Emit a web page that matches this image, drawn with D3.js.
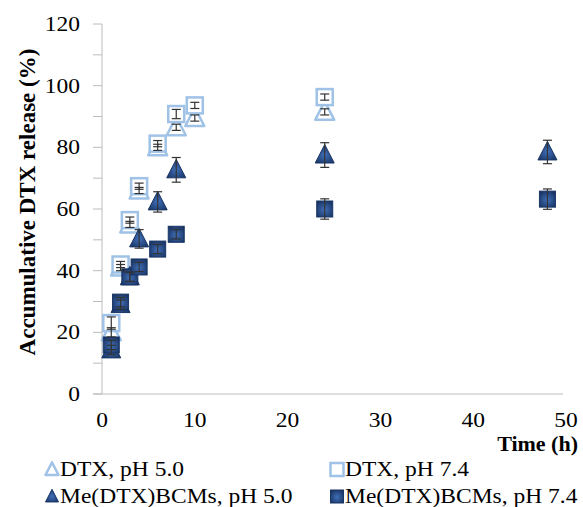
<!DOCTYPE html>
<html>
<head>
<meta charset="utf-8">
<script src="https://cdn.jsdelivr.net/npm/d3@7"></script>
<style>
  body { margin: 0; background: #fff; }
  svg text { font-family: "Liberation Serif", "Times New Roman", serif; fill: #000; }
</style>
</head>
<body>
<svg id="chart" width="583" height="507"></svg>
<script>
// data
const times_dtx = [1, 2, 3, 4, 6, 8, 10, 24];
const times_bcm = [1, 2, 3, 4, 6, 8, 24, 48];

const dtx_ph50 = [20, 41, 55, 66, 80, 86.5, 89.5, 91.5];
const dtx_ph50_err = [1.5, 1, 1, 1, 1, 1, 1, 1];
const dtx_ph74 = [23, 42, 56.4, 67.4, 81.2, 90.8, 93.6, 96.3];
const dtx_ph74_err = [2, 1, 1, 1, 1, 1.5, 1, 1];
const bcm_ph50 = [14.3, 29, 38, 50.3, 62.3, 72.7, 77.5, 78.5];
const bcm_ph50_err = [1.5, 1.5, 1.5, 3, 3.3, 4, 4, 3.8];
const bcm_ph74 = [15.9, 29.8, 38, 41.2, 47, 51.8, 60, 63.2];
const bcm_ph74_err = [1.5, 1.5, 1.5, 1.5, 1.5, 1.5, 3.3, 3.3];

const yTicks = [0, 20, 40, 60, 80, 100, 120];
const yMinor = [10, 30, 50, 70, 90, 110];
const xTicks = [0, 10, 20, 30, 40, 50];

const series = [
  { name: 'DTX, pH 5.0', t: times_dtx, v: dtx_ph50, e: dtx_ph50_err, shape: 'tri', filled: false },
  { name: 'DTX, pH 7.4', t: times_dtx, v: dtx_ph74, e: dtx_ph74_err, shape: 'sq', filled: false },
  { name: 'Me(DTX)BCMs, pH 5.0', t: times_bcm, v: bcm_ph50, e: bcm_ph50_err, shape: 'tri', filled: true },
  { name: 'Me(DTX)BCMs, pH 7.4', t: times_bcm, v: bcm_ph74, e: bcm_ph74_err, shape: 'sq', filled: true }
];

const svg = d3.select('#chart');
const x = d3.scaleLinear().domain([0, 50]).range([102, 566]);
const y = d3.scaleLinear().domain([0, 120]).range([394, 24]);

// the source figure is a bit stretched sideways, so text gets a small x scale
const SX = 1.12;
function label(g, px, py, txt, size, anchor, bold) {
  g.append('text')
    .attr('transform', `translate(${px},${py}) scale(${SX},1)`)
    .attr('text-anchor', anchor)
    .style('font-size', size + 'px')
    .style('font-weight', bold ? 'bold' : 'normal')
    .text(txt);
}

const defs = svg.append('defs');
const grad = defs.append('radialGradient').attr('id', 'darkfill').attr('cx', '50%').attr('cy', '55%').attr('r', '65%');
grad.append('stop').attr('offset', '0%').attr('stop-color', '#416fb8');
grad.append('stop').attr('offset', '100%').attr('stop-color', '#16315f');

const axisColor = '#bcbcbc';

// y axis
const yAx = svg.append('g');
yAx.append('line').attr('x1', x(0)).attr('x2', x(0)).attr('y1', y(120)).attr('y2', y(0)).attr('stroke', axisColor);
yAx.selectAll('line.tick').data(yTicks.concat(yMinor)).enter().append('line')
  .attr('class', 'tick').attr('x1', x(0) - 9).attr('x2', x(0))
  .attr('y1', d => y(d)).attr('y2', d => y(d)).attr('stroke', axisColor);
yTicks.forEach(d => label(yAx, 80, y(d) + 7, d, 21, 'end'));

// x axis
const xAx = svg.append('g');
xAx.append('line').attr('x1', x(0) - 9).attr('x2', x(50) - 3)
  .attr('y1', y(0)).attr('y2', y(0)).attr('stroke', axisColor);
xTicks.forEach(d => label(xAx, x(d), 427, d, 21, 'middle'));

// titles
svg.append('text').attr('x', 578).attr('y', 451).attr('text-anchor', 'end')
  .style('font-size', '22px').style('font-weight', 'bold').text('Time (h)');
svg.append('text').attr('transform', `translate(35,202) rotate(-90)`)
  .attr('text-anchor', 'middle').style('font-size', '23px').style('font-weight', 'bold')
  .text('Accumulative DTX release (%)');

function drawMarker(g, shape, filled, size) {
  const s = size;
  if (shape === 'tri') {
    g.append('path')
      .attr('d', `M0,${-s * 0.55} L${s * 0.5},${s * 0.42} L${-s * 0.5},${s * 0.42} Z`)
      .attr('fill', filled ? 'url(#darkfill)' : '#fff')
      .attr('stroke', filled ? '#1a3566' : '#9fc2e6')
      .attr('stroke-width', filled ? 1 : 2.5).attr('stroke-linejoin', 'round');
  } else {
    g.append('rect').attr('x', -s / 2).attr('y', -s / 2).attr('width', s).attr('height', s)
      .attr('fill', filled ? 'url(#darkfill)' : '#fff')
      .attr('stroke', filled ? '#1a3566' : '#9fc2e6')
      .attr('stroke-width', filled ? 1 : 2.5);
  }
}

// points
series.forEach(s => {
  const g = svg.append('g');
  s.t.forEach((t, i) => {
    const m = g.append('g').attr('transform', `translate(${x(t)},${y(s.v[i])})`);
    drawMarker(m, s.shape, s.filled, s.shape === 'tri' ? 19 : 16);
  });
});

// error bars on top
series.forEach(s => {
  const g = svg.append('g').attr('stroke', '#333').attr('stroke-width', 1.2);
  s.t.forEach((t, i) => {
    const cx = x(t), lo = y(s.v[i] - s.e[i]), hi = y(s.v[i] + s.e[i]);
    g.append('line').attr('x1', cx).attr('x2', cx).attr('y1', lo).attr('y2', hi);
    g.append('line').attr('x1', cx - 4.5).attr('x2', cx + 4.5).attr('y1', lo).attr('y2', lo);
    g.append('line').attr('x1', cx - 4.5).attr('x2', cx + 4.5).attr('y1', hi).attr('y2', hi);
  });
});

// legend
const legendPos = [[52, 476], [337, 476], [52, 503], [337, 503]];
const leg = svg.append('g');
series.forEach((s, i) => {
  const [lx, ly] = legendPos[i];
  const m = leg.append('g').attr('transform', `translate(${lx},${ly - 6.5})`);
  drawMarker(m, s.shape, s.filled, 13);
  label(leg, lx + 8, ly, s.name, 21, 'start');
});
</script>
</body>
</html>
